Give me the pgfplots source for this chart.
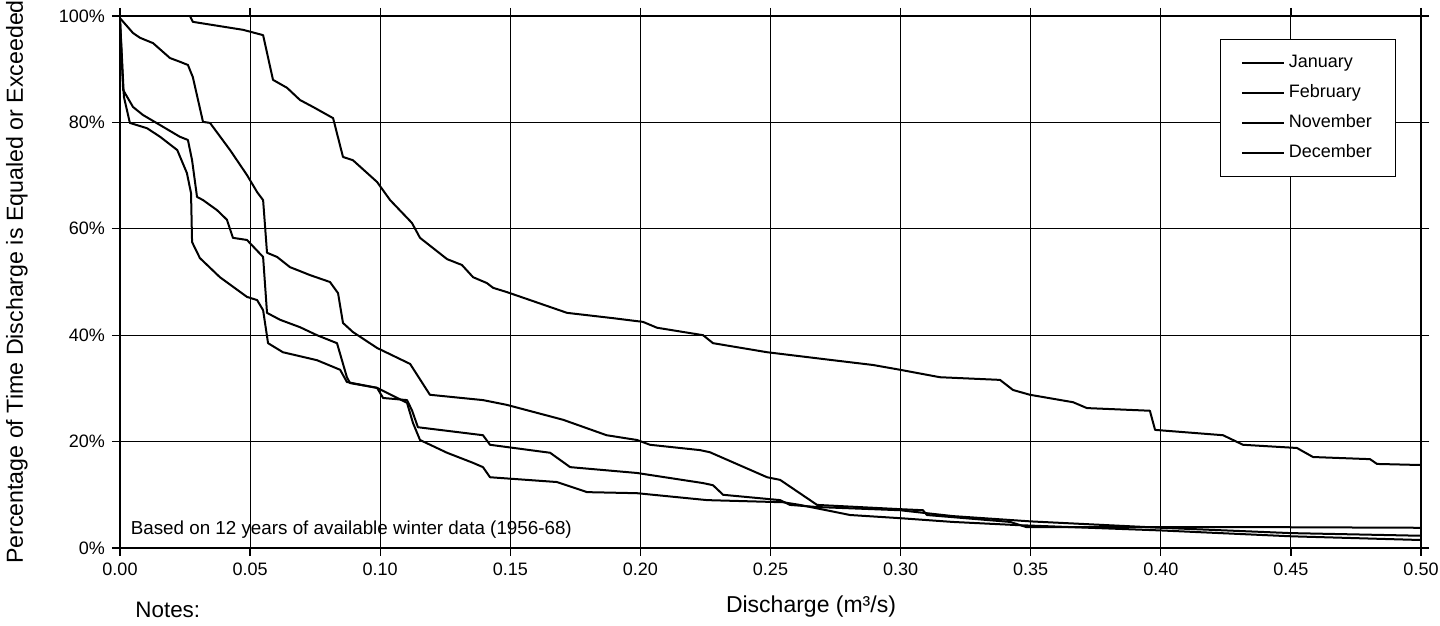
\documentclass[border=0pt]{standalone}
\usepackage{fontspec}
\setmainfont{Liberation Sans}
\usepackage{pgfplots}
\pgfplotsset{compat=1.18}

\begin{document}
\begin{tikzpicture}
\useasboundingbox (-60pt,-39pt) rectangle (660pt,274pt);
\begin{axis}[
  at={(0,0)}, anchor=south west,
  scale only axis, width=650.5pt, height=266pt,
  xmin=0, xmax=0.5, ymin=0, ymax=100,
  xtick={0,0.05,0.1,0.15,0.2,0.25,0.3,0.35,0.4,0.45,0.5},
  xticklabels={0.00,0.05,0.10,0.15,0.20,0.25,0.30,0.35,0.40,0.45,0.50},
  ytick={0,20,40,60,80,100},
  yticklabels={0\%,20\%,40\%,60\%,80\%,100\%},
  tick label style={font=\fontsize{9}{11}\selectfont},
  tick align=outside, major tick length=4pt,
  tick style={black, line width=0.6pt},
  grid=major, major grid style={black, line width=0.5pt},
  axis line style={black, line width=0.8pt},
  legend style={at={(0.981,0.957)}, anchor=north east, draw=black,
                fill=white, font=\fontsize{9}{11}\selectfont,
                row sep=3pt, inner xsep=10pt, inner ysep=6pt,
                cells={anchor=west}},
  legend image code/.code={\draw[#1] (0pt,0pt) -- (21pt,0pt);},
  no markers,
  cycle list={{black, line width=1pt, line join=round},
              {black, line width=1pt, line join=round},
              {black, line width=1pt, line join=round},
              {black, line width=1pt, line join=round}},
]
% curve with the highest discharges
\addplot coordinates {
(0,100) (0.0269,100) (0.028,98.9) (0.0473,97.4) (0.055,96.4) (0.0588,88)
(0.0642,86.5) (0.0692,84.2) (0.0742,82.9) (0.0819,80.8) (0.0857,73.5)
(0.0895,72.9) (0.0988,68.8) (0.1038,65.4) (0.1122,61.1) (0.1153,58.3)
(0.1257,54.3) (0.1314,53.2) (0.1357,50.9) (0.141,49.8) (0.1434,48.9)
(0.1487,48.1) (0.1576,46.6) (0.1718,44.2) (0.1895,43.2) (0.201,42.5)
(0.2064,41.4) (0.2241,40.0) (0.2279,38.5) (0.2487,36.8) (0.274,35.3)
(0.2894,34.4) (0.2998,33.5) (0.3151,32.1) (0.3382,31.6) (0.3432,29.7)
(0.3497,28.8) (0.3663,27.4) (0.3716,26.3) (0.3958,25.8) (0.3978,22.2)
(0.4239,21.2) (0.4316,19.4) (0.4523,18.8) (0.4585,17.1) (0.4804,16.7)
(0.4831,15.8) (0.4996,15.6)
};
\addlegendentry{January}
% second curve
\addplot coordinates {
(0,99.6) (0.005,96.8) (0.0077,95.9) (0.0127,94.9) (0.0192,92.1) (0.023,91.4)
(0.0261,90.8) (0.028,88.5) (0.0319,80.1) (0.0346,79.9) (0.0423,74.8)
(0.0488,70.1) (0.0527,66.9) (0.055,65.4) (0.0565,55.5) (0.0604,54.7)
(0.0653,52.8) (0.073,51.3) (0.0807,50.0) (0.0838,47.9) (0.0857,42.3)
(0.0895,40.6) (0.0988,37.6) (0.1115,34.6) (0.1191,28.8) (0.1395,27.8)
(0.1487,26.9) (0.1703,24.1) (0.187,21.2) (0.1987,20.3) (0.2037,19.4)
(0.2229,18.4) (0.2267,18.0) (0.2487,13.3) (0.2537,12.8) (0.2679,8.1)
(0.2998,7.3) (0.3086,7.1) (0.3101,6.2) (0.3421,4.9) (0.3485,3.9)
(0.40,3.9) (0.45,3.9) (0.50,3.8)
};
\addlegendentry{February}
% third curve
\addplot coordinates {
(0,99.5) (0.0012,86.1) (0.005,82.9) (0.0088,81.4) (0.0154,79.5) (0.023,77.3)
(0.0261,76.7) (0.0277,72.9) (0.0296,66.0) (0.0319,65.4) (0.0373,63.5)
(0.0411,61.7) (0.0434,58.3) (0.0488,57.9) (0.055,54.7) (0.0565,44.2)
(0.0615,42.9) (0.0692,41.5) (0.0757,40.0) (0.0834,38.5) (0.0872,32.1)
(0.0884,31.0) (0.0988,30.1) (0.1103,27.3) (0.1126,23.5) (0.1153,20.3)
(0.1257,17.9) (0.1357,16.0) (0.1395,15.2) (0.1422,13.3) (0.1679,12.4)
(0.1795,10.5) (0.1987,10.3) (0.2256,9.0) (0.2548,8.6) (0.2613,8.1)
(0.2806,6.2) (0.30,5.6) (0.32,4.9) (0.345,4.3) (0.40,3.3) (0.45,2.2)
(0.50,1.5)
};
\addlegendentry{November}
% fourth curve
\addplot coordinates {
(0,99.5) (0.0015,84.8) (0.0038,79.9) (0.0104,78.9) (0.0154,77.3) (0.022,74.8)
(0.0257,70.5) (0.0273,66.7) (0.0277,57.5) (0.0307,54.5) (0.0384,50.9)
(0.0488,47.2) (0.0527,46.6) (0.055,44.7) (0.0569,38.5) (0.0626,36.8)
(0.0757,35.3) (0.0846,33.5) (0.0872,31.2) (0.0988,30.1) (0.1011,28.2)
(0.1103,27.8) (0.1122,25.9) (0.1145,22.7) (0.1395,21.2) (0.1422,19.4)
(0.1653,17.9) (0.1730,15.2) (0.1987,14.1) (0.2241,12.2) (0.2279,11.8)
(0.2318,10.0) (0.2537,9.0) (0.2575,8.1) (0.2679,7.7) (0.2998,7.1)
(0.32,6.0) (0.35,5.0) (0.40,3.8) (0.45,2.8) (0.50,2.3)
};
\addlegendentry{December}
\node[anchor=west, font=\fontsize{9.4}{11}\selectfont, inner sep=0pt]
  at (axis cs:0.004,3.4) {Based on 12 years of available winter data (1956-68)};
\end{axis}
\node[rotate=90, font=\fontsize{11.6}{13}\selectfont] at (-51.5pt,133pt)
  {Percentage of Time Discharge is Equaled or Exceeded};
\node[font=\fontsize{11.5}{13}\selectfont] at (345.5pt,-29.5pt) {Discharge (m³/s)};
\node[anchor=west, font=\fontsize{11.2}{13}\selectfont, inner sep=0pt] at (7.5pt,-31pt) {Notes:};
\end{tikzpicture}
\end{document}
